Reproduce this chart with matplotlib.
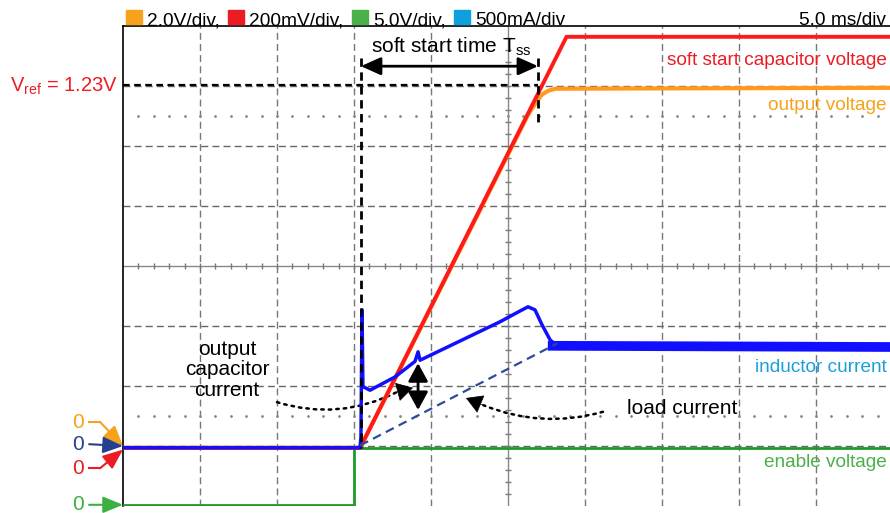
import matplotlib.pyplot as plt
from matplotlib.patches import Rectangle

plt.rcParams['font.family'] = ['Liberation Sans', 'DejaVu Sans']
plt.rcParams['mathtext.fontset'] = 'custom'
plt.rcParams['mathtext.rm'] = 'Liberation Sans'

# scope screen: 10 x 8 divisions, 5 ms/div
MS_PER_DIV = 5.0
N_XDIV = 10
N_YDIV = 8

# channel scale (units/div) and zero level (div from bottom)
RED_SCALE, RED_ZERO = 0.2, 0.97       # soft start capacitor, V
ORANGE_SCALE, ORANGE_ZERO = 2.0, 0.97  # output voltage, V
BLUE_SCALE, BLUE_ZERO = 0.5, 0.97      # inductor current, A
GREEN_SCALE, GREEN_ZERO = 5.0, 0.02    # enable voltage, V

# traces (time in ms)
red_t = [0, 15.4, 28.8, 50]
red_v = [0, 0, 1.37, 1.37]

orange_t = [0, 15.4, 26.3, 26.9, 27.2, 27.6, 28.1, 50]
orange_v = [0, 0, 11.1, 11.57, 11.77, 11.9, 11.97, 12.0]

blue_t = [0, 15.39, 15.45, 15.52, 15.58, 16.04, 17.66, 18.96, 19.16, 19.29,
          24.48, 25.78, 26.3, 26.75, 27.21, 27.73, 28.25]
blue_a = [0, 0, 0.09, 1.15, 0.51, 0.48, 0.59, 0.72, 0.80, 0.73,
          1.05, 1.14, 1.175, 1.15, 1.025, 0.90, 0.84]
blue_tail_t = [27.9, 50]
blue_tail_a = [0.85, 0.84]

green_t = [0, 15.0, 15.0, 50]
green_v = [0, 0, 4.75, 4.75]

load_t = [15.4, 28.2]
load_a = [0.02, 0.87]

tss_start, tss_end = 15.45, 26.95
vref = 1.21

legend_items = [('#f7a21b', '2.0V/div,'), ('#ed1c24', '200mV/div,'),
                ('#4cb04a', '5.0V/div,'), ('#0ea0dc', '500mA/div')]
legend_x = [126, 228, 352, 454]  # px from left


def to_div(vals, scale, zero):
    return [zero + v / scale for v in vals]


W, H = 890, 513
fig = plt.figure(figsize=(W / 100, H / 100), dpi=100)
ax = fig.add_axes([123 / W, (H - 506) / H, 770 / W, 480 / H])
ax.set_xlim(0, N_XDIV * MS_PER_DIV)
ax.set_ylim(0, N_YDIV)
ax.set_xticks([])
ax.set_yticks([])
for s in ['right', 'bottom']:
    ax.spines[s].set_visible(False)
ax.spines['left'].set_linewidth(1.2)
ax.spines['top'].set_linewidth(1.2)

# graticule
for i in range(1, N_XDIV):
    if i == N_XDIV // 2:
        continue
    ax.axvline(i * MS_PER_DIV, color='#777777', lw=1, dashes=(5, 3), zorder=1)
for j in range(1, N_YDIV):
    if j == N_YDIV // 2:
        continue
    ax.axhline(j, color='#666666', lw=1, dashes=(5, 3), zorder=1)
ax.axvline(25, color='#888888', lw=1, zorder=1)
ax.axhline(4, color='#888888', lw=1, zorder=1)
xt = [k * 1.0 for k in range(1, 50)]
yt = [k * 0.2 for k in range(1, 40)]
ax.plot(xt, [4] * len(xt), ls='none', marker='|', ms=5, color='#777777', mew=1, zorder=1)
ax.plot([25] * len(yt), yt, ls='none', marker='_', ms=5, color='#777777', mew=1, zorder=1)
for row in [6.5, 1.5]:
    ax.plot(xt, [row] * len(xt), ls='none', marker='.', ms=2, color='#888888', zorder=1)

# traces
ax.plot(green_t, to_div(green_v, GREEN_SCALE, GREEN_ZERO), color='#1f9a2a', lw=2, zorder=3)
ax.plot(orange_t, to_div(orange_v, ORANGE_SCALE, ORANGE_ZERO), color='#ff9a1a', lw=3, zorder=4)
ax.plot(red_t, to_div(red_v, RED_SCALE, RED_ZERO), color='#ff1a1a', lw=2.8, zorder=5)
ax.plot(blue_tail_t, to_div(blue_tail_a, BLUE_SCALE, BLUE_ZERO), color='#1010ff', lw=7, zorder=6)
ax.plot(blue_t, to_div(blue_a, BLUE_SCALE, BLUE_ZERO), color='#1010ff', lw=2.5, zorder=6)
ax.plot(load_t, to_div(load_a, BLUE_SCALE, BLUE_ZERO), color='#2b4c9b', lw=1.6,
        dashes=(4, 2.5), zorder=6)

# soft start time markers
vref_div = RED_ZERO + vref / RED_SCALE
ax.plot([0, tss_end], [vref_div, vref_div], color='black', lw=1.6, dashes=(3, 2), zorder=7)
ax.plot([tss_start, tss_start], [7.47, RED_ZERO], color='black', lw=2, dashes=(3, 2), zorder=7)
ax.plot([tss_end, tss_end], [7.47, 6.4], color='black', lw=2, dashes=(3, 2), zorder=7)
ax.annotate('', xy=(tss_start, 7.33), xytext=(tss_end, 7.33),
            arrowprops=dict(arrowstyle='<|-|>,head_length=0.6,head_width=0.27',
                            mutation_scale=20, color='black', lw=2, shrinkA=0, shrinkB=0))
ax.text(21.3, 7.66, r'soft start time T$_{\mathregular{ss}}$', fontsize=15,
        ha='center', va='center')

# capacitor current arrow
ax.annotate('', xy=(19.16, 2.38), xytext=(19.16, 1.6),
            arrowprops=dict(arrowstyle='<|-|>,head_length=0.55,head_width=0.3',
                            mutation_scale=20, color='black', lw=2, shrinkA=0, shrinkB=0))


def dotted_arrow(start, base, tip, rad):
    ax.annotate('', xy=base, xytext=start,
                arrowprops=dict(arrowstyle='-', color='black', lw=1.8, ls=(0, (1, 2)),
                                connectionstyle='arc3,rad=%g' % rad,
                                shrinkA=0, shrinkB=0))
    ax.annotate('', xy=tip, xytext=base,
                arrowprops=dict(arrowstyle='-|>,head_length=0.6,head_width=0.35',
                                mutation_scale=18, color='black', lw=0.5,
                                shrinkA=0, shrinkB=0))


dotted_arrow((10.0, 1.73), (17.8, 1.9), (18.83, 1.97), 0.2)
dotted_arrow((31.17, 1.57), (23.4, 1.68), (22.27, 1.8), -0.17)

ax.text(6.75, 2.27, 'output\ncapacitor\ncurrent', fontsize=15, ha='center',
        va='center', linespacing=1.1)
ax.text(32.7, 1.63, 'load current', fontsize=15, ha='left', va='center')

# trace labels
ax.text(49.6, 7.43, 'soft start capacitor voltage', color='#ed1c24', fontsize=13.7,
        ha='right', va='center')
ax.text(49.6, 6.67, 'output voltage', color='#f7a21b', fontsize=13.7,
        ha='right', va='center')
ax.text(49.6, 2.3, 'inductor current', color='#1a9fdc', fontsize=13.7,
        ha='right', va='center')
ax.text(49.6, 0.73, 'enable voltage', color='#4cb04a', fontsize=13.7,
        ha='right', va='center')

# V_ref label
ax.text(-0.32, 7.0, r'V$_{\mathregular{ref}}$ = 1.23V', color='#ed1c24', fontsize=14.5,
        ha='right', va='center', clip_on=False)

# zero markers
markers = [('#f7a21b', 1.4, (-1.49, 1.4), (0, 1.0)),
           ('#24408e', 1.03, None, (0, 1.0)),
           ('#ed1c24', 0.63, (-1.49, 0.63), (0, 0.94)),
           ('#3cb043', 0.02, None, (0, 0.02))]
for col, yl, knee, tip in markers:
    ax.text(-2.9, yl, '0', color=col, fontsize=15, ha='center', va='center', clip_on=False)
    start = (-2.2, yl)
    if knee is not None:
        ax.plot([start[0], knee[0]], [start[1], knee[1]], color=col, lw=1.5, clip_on=False)
        start = knee
    ax.annotate('', xy=tip, xytext=start, annotation_clip=False,
                arrowprops=dict(arrowstyle='-|>,head_length=0.68,head_width=0.28',
                                mutation_scale=18, color=col, lw=1.5,
                                shrinkA=0, shrinkB=0))

# header
for (col, label), px in zip(legend_items, legend_x):
    fig.add_artist(Rectangle((px / W, 1 - 24 / H), 16 / W, 14 / H, color=col,
                             transform=fig.transFigure))
    fig.text((px + 21) / W, 1 - 25 / H, label, fontsize=13.8, va='baseline', ha='left')
fig.text(886 / W, 1 - 25 / H, '5.0 ms/div', fontsize=13.8, va='baseline', ha='right')

fig.savefig('out.png', dpi=100)
